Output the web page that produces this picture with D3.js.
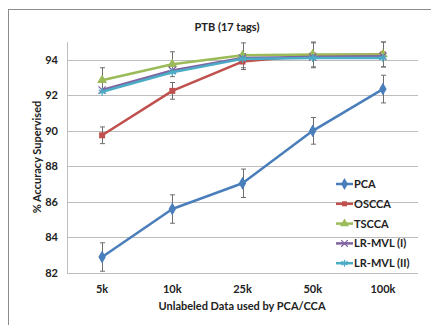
<!DOCTYPE html>
<html>
<head>
<meta charset="utf-8">
<script src="https://cdn.jsdelivr.net/npm/d3@7"></script>
<style>
  body { margin: 0; background: #fff; }
  text { font-family: Lato, "Open Sans", sans-serif; font-weight: bold; fill: #222; }
</style>
</head>
<body>
<script>
// data
var categories = ["5k", "10k", "25k", "50k", "100k"];
var yTicks = [82, 84, 86, 88, 90, 92, 94];

var pca      = [82.9, 85.6, 87.05, 90.0, 92.35];
var oscca    = [89.75, 92.25, 93.9, 94.25, 94.3];
var tscca    = [92.85, 93.75, 94.25, 94.3, 94.3];
var lrmvl1   = [92.3, 93.4, 94.1, 94.15, 94.2];
var lrmvl2   = [92.2, 93.3, 94.05, 94.1, 94.1];

var pcaErr   = [0.8, 0.8, 0.8, 0.75, 0.78];
var osccaErr = [0.47, 0.47, 0.45, 0.7, 0.7];
var tsccaErr = [0.7, 0.7, 0.7, 0.7, 0.7];

var seriesNames = ["PCA", "OSCCA", "TSCCA", "LR-MVL (I)", "LR-MVL (II)"];
var seriesColors = ["#4a7ebb", "#c0504d", "#9bbb59", "#8064a2", "#4bacc6"];
var seriesShapes = ["diamond", "square", "triangle", "cross", "star"];

var series = [
  {name: seriesNames[0], values: pca, err: pcaErr},
  {name: seriesNames[1], values: oscca, err: osccaErr},
  {name: seriesNames[2], values: tscca, err: tsccaErr},
  {name: seriesNames[3], values: lrmvl1, err: null},
  {name: seriesNames[4], values: lrmvl2, err: null}
];

var w_svg = 431, h_svg = 325;
var padL = 67, padR = 418, padT = 42, padB = 273;

var svg = d3.select("body").append("svg")
  .attr("width", w_svg).attr("height", h_svg);

// outer frame (cut off at the right/bottom like the picture)
svg.append("rect")
  .attr("x", 8.5).attr("y", 9.5)
  .attr("width", 500).attr("height", 400)
  .attr("fill", "none").attr("stroke", "#8c8c8c").attr("stroke-width", 1);

var xScale = d3.scaleBand().domain(categories).range([padL, padR]);
var yScale = d3.scaleLinear().domain([82, 95]).range([padB, padT]);
function cx(i) { return xScale(categories[i]) + xScale.bandwidth() / 2; }

// gridlines
svg.append("g").selectAll("line").data(yTicks).enter().append("line")
  .attr("x1", padL).attr("x2", padR)
  .attr("y1", function(d) { return Math.round(yScale(d)) + 0.5; })
  .attr("y2", function(d) { return Math.round(yScale(d)) + 0.5; })
  .attr("stroke", "#bdbdbd").attr("stroke-width", 1);

// y axis
var y_axis = d3.axisLeft(yScale).tickValues(yTicks).tickSize(0).tickPadding(9);
var gy = svg.append("g").attr("transform", "translate(" + padL + ",0)").call(y_axis);
gy.select(".domain").attr("stroke", "#bdbdbd").attr("d", "M0.5," + padT + "V" + padB);
gy.selectAll("text").style("font-size", "11px").style("font-family", "Lato, 'Open Sans', sans-serif").attr("fill", "#1a1a1a");

// x axis labels
var x_axis = d3.axisBottom(xScale).tickSize(0).tickPadding(12);
var gx = svg.append("g").attr("transform", "translate(0," + padB + ")").call(x_axis);
gx.select(".domain").remove();
gx.selectAll("text").style("font-size", "11px").style("font-family", "Lato, 'Open Sans', sans-serif").attr("fill", "#1a1a1a");

// titles
svg.append("text").attr("x", 227).attr("y", 31).attr("text-anchor", "middle")
  .style("font-size", "11px").text("PTB (17 tags)");
svg.append("text").attr("x", 242).attr("y", 310).attr("text-anchor", "middle")
  .style("font-size", "11px").text("Unlabeled Data used by PCA/CCA");
svg.append("text").attr("transform", "translate(41,157) rotate(-90)")
  .attr("text-anchor", "middle").style("font-size", "11px").text("% Accuracy Supervised");

// error bars
series.forEach(function(s) {
  if (!s.err) return;
  var g = svg.append("g");
  s.values.forEach(function(v, i) {
    var x = Math.round(cx(i)) + 0.5;
    var y1 = yScale(v + s.err[i]), y2 = yScale(v - s.err[i]);
    g.append("line").attr("x1", x).attr("x2", x).attr("y1", y1).attr("y2", y2)
      .attr("stroke", "#6e6e6e").attr("stroke-width", 1);
    [y1, y2].forEach(function(y) {
      g.append("line").attr("x1", x - 2.5).attr("x2", x + 2.5).attr("y1", y).attr("y2", y)
        .attr("stroke", "#6e6e6e").attr("stroke-width", 1);
    });
  });
});

// marker drawing
function marker(g, shape, x, y, color, size) {
  if (shape === "diamond") {
    g.append("path").attr("d", d3.symbol(d3.symbolDiamond, size * 8)())
      .attr("transform", "translate(" + x + "," + y + ")").attr("fill", color);
  } else if (shape === "square") {
    g.append("rect").attr("x", x - size / 2).attr("y", y - size / 2)
      .attr("width", size).attr("height", size).attr("fill", color);
  } else if (shape === "triangle") {
    g.append("path").attr("d", d3.symbol(d3.symbolTriangle, size * 7)())
      .attr("transform", "translate(" + x + "," + y + ")").attr("fill", color);
  } else if (shape === "cross") {
    g.append("path").attr("d", d3.symbol(d3.symbolX, size * 6)())
      .attr("transform", "translate(" + x + "," + y + ")")
      .attr("fill", "none").attr("stroke", color).attr("stroke-width", 1.3);
  } else {
    g.append("path").attr("d", d3.symbol(d3.symbolAsterisk, size * 7)())
      .attr("transform", "translate(" + x + "," + y + ")")
      .attr("fill", "none").attr("stroke", color).attr("stroke-width", 1.3);
  }
}

// lines
var line = d3.line().x(function(d, i) { return cx(i); }).y(function(d) { return yScale(d); });
series.forEach(function(s, k) {
  svg.append("path").datum(s.values).attr("d", line)
    .attr("fill", "none").attr("stroke", seriesColors[k]).attr("stroke-width", 2.5)
    .attr("stroke-linejoin", "round");
  var g = svg.append("g");
  s.values.forEach(function(v, i) { marker(g, seriesShapes[k], cx(i), yScale(v), seriesColors[k], 6); });
});

// legend
var lg = svg.append("g");
series.forEach(function(s, k) {
  var y = 184 + k * 19.8;
  lg.append("line").attr("x1", 336).attr("x2", 353).attr("y1", y).attr("y2", y)
    .attr("stroke", seriesColors[k]).attr("stroke-width", 2.5);
  marker(lg, seriesShapes[k], 344.5, y, seriesColors[k], 5);
  lg.append("text").attr("x", 354).attr("y", y + 4).style("font-size", "11px").text(s.name);
});
</script>
</body>
</html>
